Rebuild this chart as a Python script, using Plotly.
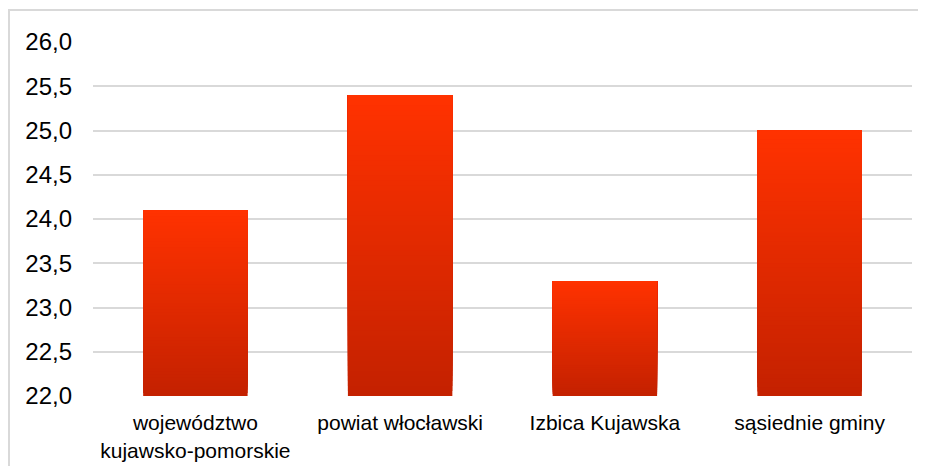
import plotly.graph_objects as go

categories = ["województwo<br>kujawsko-pomorskie", "powiat włocławski", "Izbica Kujawska", "sąsiednie gminy"]
values = [24.1, 25.4, 23.3, 25.0]
y_ticks = [22.0, 22.5, 23.0, 23.5, 24.0, 24.5, 25.0, 25.5, 26.0]
y_tick_labels = ["22,0", "22,5", "23,0", "23,5", "24,0", "24,5", "25,0", "25,5", "26,0"]

BASE = 22.0
N = 60
top_rgb = (255, 50, 0)
bot_rgb = (196, 33, 0)

fig = go.Figure()
for k in range(N):
    t = (k + 0.5) / N
    c = tuple(round(bot_rgb[i] + (top_rgb[i] - bot_rgb[i]) * t) for i in range(3))
    bases = [BASE + (v - BASE) * k / N for v in values]
    heights = [v - b for v, b in zip(values, bases)]
    fig.add_trace(go.Bar(
        x=categories, y=heights, base=bases,
        marker=dict(color="rgb(%d,%d,%d)" % c, line=dict(width=0)),
        width=0.51, showlegend=False, hoverinfo="skip",
    ))

# plot area in figure px (page has 8px body offset)
L, T, R, B = 85, 34, 22, 78
PW = 926 - L - R
PH = 466 - T - B

fig.update_layout(
    barmode="overlay",
    width=926, height=466,
    margin=dict(l=L, r=R, t=T, b=B),
    paper_bgcolor="white", plot_bgcolor="white",
    font=dict(family="Liberation Sans, Arial, sans-serif", color="#000000"),
    showlegend=False,
    xaxis=dict(showgrid=False, zeroline=False, showline=False, ticks="outside",
               ticklen=8, tickcolor="rgba(0,0,0,0)",
               tickfont=dict(size=21)),
    yaxis=dict(range=[22, 26], tickvals=y_ticks, ticktext=y_tick_labels,
               showgrid=True, gridcolor="#d9d9d9", gridwidth=2, zeroline=False,
               showline=False, ticks="", tickfont=dict(size=24), ticklabelstandoff=20),
    shapes=[
        dict(type="line", xref="paper", yref="paper", x0=-L/PW, x1=(926-L)/PW,
             y0=1 + (T-2)/PH, y1=1 + (T-2)/PH, line=dict(color="#d9d9d9", width=2)),
        dict(type="line", xref="paper", yref="paper", x0=-(L-1)/PW, x1=-(L-1)/PW,
             y0=1 + (T-2)/PH, y1=-B/PH, line=dict(color="#d9d9d9", width=2)),
    ],
)

fig.write_html("out.html")
